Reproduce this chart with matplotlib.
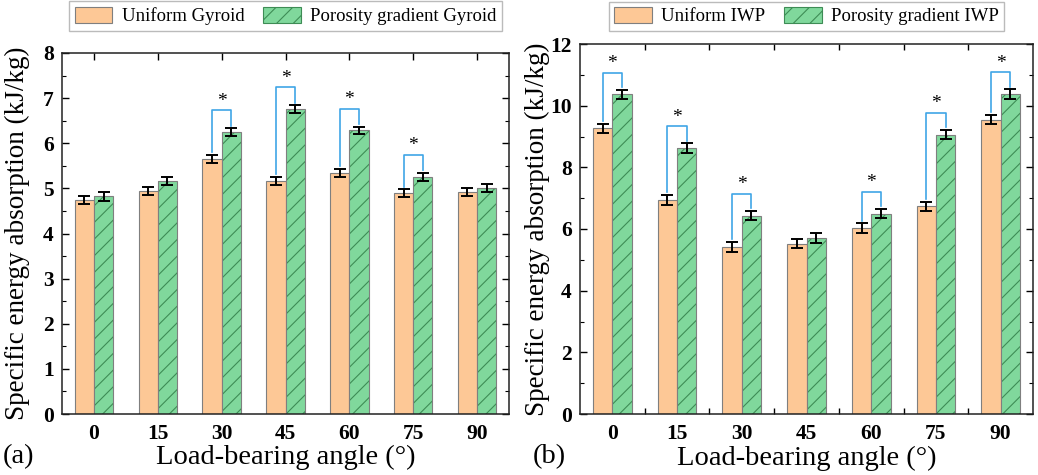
import matplotlib
matplotlib.use("Agg")
import matplotlib.pyplot as plt
import numpy as np
from matplotlib.patches import Patch
from matplotlib.ticker import MultipleLocator, FixedLocator

plt.rcParams['font.family'] = ['Liberation Serif', 'DejaVu Serif']
plt.rcParams['hatch.linewidth'] = 0.8

angles = ['0', '15', '30', '45', '60', '75', '90']

gyroid_uniform = [4.74, 4.95, 5.65, 5.16, 5.35, 4.89, 4.92]
gyroid_uniform_err = [0.09, 0.09, 0.09, 0.09, 0.09, 0.09, 0.09]
gyroid_grad = [4.83, 5.16, 6.25, 6.76, 6.29, 5.26, 5.00]
gyroid_grad_err = [0.10, 0.09, 0.08, 0.08, 0.08, 0.09, 0.09]
gyroid_sig = [False, False, True, True, True, True, False]

iwp_uniform = [9.27, 6.95, 5.42, 5.52, 6.03, 6.74, 9.54]
iwp_uniform_err = [0.15, 0.16, 0.15, 0.15, 0.15, 0.15, 0.15]
iwp_grad = [10.37, 8.63, 6.43, 5.70, 6.50, 9.06, 10.37]
iwp_grad_err = [0.15, 0.15, 0.15, 0.17, 0.15, 0.15, 0.16]
iwp_sig = [True, True, True, False, True, True, True]

c_orange = '#FDC896'
c_green = '#80D89C'
c_hatch = '#3E8C55'
c_edge = '#7F7F7F'
c_bracket = '#3FA5E6'

W, H = 1038, 475
fig = plt.figure(figsize=(W / 100, H / 100), dpi=100)

def make_panel(rect, uni, uerr, grad, gerr, sig, ymax, major, minor,
               br_off, ast_off, names, ylab_x, letter, letter_x, top_centers, leg_y):
    ax = fig.add_axes(rect)
    x = np.arange(len(angles))
    bw = 0.3
    ax.bar(x - bw / 2, uni, bw, color=c_orange, edgecolor=c_edge, linewidth=0.8, zorder=2)
    ax.bar(x + bw / 2, grad, bw, color=c_green, edgecolor=c_hatch, linewidth=0,
           hatch='//', zorder=2)
    ax.bar(x + bw / 2, grad, bw, fill=False, edgecolor=c_edge, linewidth=0.8, zorder=2.1)
    ax.errorbar(x - bw / 2, uni, yerr=uerr, fmt='none', ecolor='black',
                elinewidth=1.4, capsize=4, capthick=1.4, zorder=3)
    ax.errorbar(x + bw / 2, grad, yerr=gerr, fmt='none', ecolor='black',
                elinewidth=1.4, capsize=4, capthick=1.4, zorder=3)
    gap = 0.06 * ymax / 8
    for i in range(len(angles)):
        if not sig[i]:
            continue
        y1 = uni[i] + uerr[i] + gap
        y2 = grad[i] + gerr[i] + gap
        h = grad[i] + gerr[i] + br_off
        ax.plot([x[i] - bw / 2, x[i] - bw / 2, x[i] + bw / 2, x[i] + bw / 2],
                [y1, h, h, y2], color=c_bracket, lw=1.2, zorder=4)
        ax.text(x[i], h + ast_off, '*', ha='center', va='center', fontsize=14, zorder=5)
    ax.set_xlim(-0.5, len(angles) - 0.5)
    ax.set_ylim(0, ymax)
    ax.set_xticks(x)
    ax.set_xticklabels(angles, fontsize=15.5, fontweight='bold')
    ax.yaxis.set_major_locator(MultipleLocator(major))
    ax.yaxis.set_minor_locator(MultipleLocator(minor))
    for lab in ax.get_yticklabels():
        lab.set_fontweight('bold')
        lab.set_fontsize(15.5)
    ax.tick_params(axis='y', which='both', direction='in', right=True, pad=6)
    ax.tick_params(axis='y', which='major', length=5, width=1)
    ax.tick_params(axis='y', which='minor', length=3, width=0.8)
    if top_centers:
        ax.tick_params(axis='x', which='major', direction='in', top=True, bottom=False,
                       length=5, width=1, pad=7)
        ax.tick_params(axis='x', which='major', labelbottom=True)
    else:
        ax.tick_params(axis='x', which='major', length=0, pad=7)
        ax.xaxis.set_minor_locator(FixedLocator(x[:-1] + 0.5))
        ax.tick_params(axis='x', which='minor', direction='in', top=True, bottom=True,
                       length=4, width=1)
    for s in ax.spines.values():
        s.set_linewidth(1.1)
        s.set_color('#222222')
    ax.set_ylabel('Specific energy absorption (kJ/kg)', fontsize=19.5)
    ax.yaxis.set_label_coords(ylab_x, 0.5)
    ax.set_xlabel('Load-bearing angle (°)', fontsize=20.5)
    ax.xaxis.set_label_coords(0.5, -0.085)
    handles = [Patch(facecolor=c_orange, edgecolor=c_edge, linewidth=0.8),
               Patch(facecolor=c_green, edgecolor=c_hatch, hatch='//', linewidth=0.8)]
    leg = ax.legend(handles, names, loc='lower center', bbox_to_anchor=(0.5, leg_y),
                    ncol=2, fontsize=13.5, frameon=True, fancybox=False,
                    edgecolor='#AAAAAA', handlelength=2.0, handleheight=0.9,
                    borderpad=0.3, columnspacing=1.0, handletextpad=0.5,
                    borderaxespad=0)
    leg.get_frame().set_linewidth(1.0)
    fig.text(letter_x, 1 - 457 / H, letter, fontsize=20.5, ha='left', va='center')
    return ax

make_panel([62 / W, 61 / H, 447 / W, 361 / H], gyroid_uniform, gyroid_uniform_err,
           gyroid_grad, gyroid_grad_err, gyroid_sig, 8, 1, 0.5, 0.4, 0.2,
           ['Uniform Gyroid', 'Porosity gradient Gyroid'], -0.072, '(a)', 3 / W, True, 1.061)
make_panel([580 / W, 61 / H, 453 / W, 370 / H], iwp_uniform, iwp_uniform_err,
           iwp_grad, iwp_grad_err, iwp_sig, 12, 2, 1, 0.55, 0.3,
           ['Uniform IWP', 'Porosity gradient IWP'], -0.066, '(b)', 533 / W, False, 1.035)

fig.savefig('out.png', dpi=100)
